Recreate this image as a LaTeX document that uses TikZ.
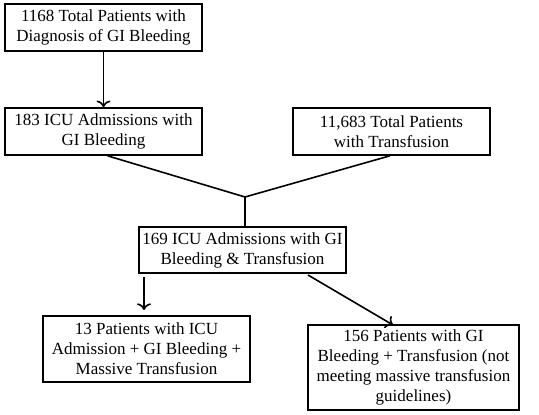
\documentclass[tikz,border=0pt]{standalone}
\usepackage{fontspec}
\setmainfont{Liberation Serif}
\usepackage{tikz}
\usetikzlibrary{arrows.meta}
\usetikzlibrary{calc}
\tikzset{
	flowbox/.style={draw=black, line width=1.6pt, align=center, inner sep=0pt,
		font=\fontsize{17}{20}\selectfont},
	flowline/.style={line width=1.6pt},
	flowarrow/.style={line width=1.6pt, -{>[scale=1.3]}}
}
\begin{document}
\begin{tikzpicture}[x=1pt, y=-1pt]

	\useasboundingbox[fill=white] (0,0) rectangle (539,415);

	% top row
	\node[flowbox, minimum width=197pt, minimum height=47pt] (total) at (103.5,27.5)
		{1168 Total Patients with\\Diagnosis of GI Bleeding};
	\node[flowbox, minimum width=197pt, minimum height=47pt] (icu) at (103.5,131.5)
		{183 ICU Admissions with\\GI Bleeding};
	\node[flowbox, minimum width=197pt, minimum height=47pt] (transf) at (391.5,131.5)
		{11,683 Total Patients\\with Transfusion};

	% merged group
	\node[flowbox, minimum width=207pt, minimum height=46pt] (both) at (242.5,250)
		{169 ICU Admissions with GI\\Bleeding \& Transfusion};

	% outcome boxes
	\node[flowbox, minimum width=207pt, minimum height=66pt] (massive) at (146.5,349)
		{13 Patients with ICU\\Admission + GI Bleeding +\\Massive Transfusion};
	\node[flowbox, minimum width=211pt, minimum height=85pt] (notmassive) at (413.5,367.5)
		{156 Patients with GI\\Bleeding + Transfusion (not\\meeting massive transfusion\\guidelines)};

	\coordinate (join) at (245,197);
	\coordinate (leftfrom) at (144,277);
	\coordinate (leftto) at (144,310);
	\coordinate (rightfrom) at (308,275);
	\coordinate (rightto) at (393,325);

	\draw[flowarrow] (total) -- (icu);
	\draw[flowline] ($(icu.south)+(4,0)$) -- (join) -- ($(transf.south)+(-1.5,0)$);
	\draw[flowline] (join) -- (join |- both.north);
	\draw[flowarrow] (leftfrom) -- (leftto);
	\draw[flowarrow] (rightfrom) -- (rightto);

\end{tikzpicture}
\end{document}
